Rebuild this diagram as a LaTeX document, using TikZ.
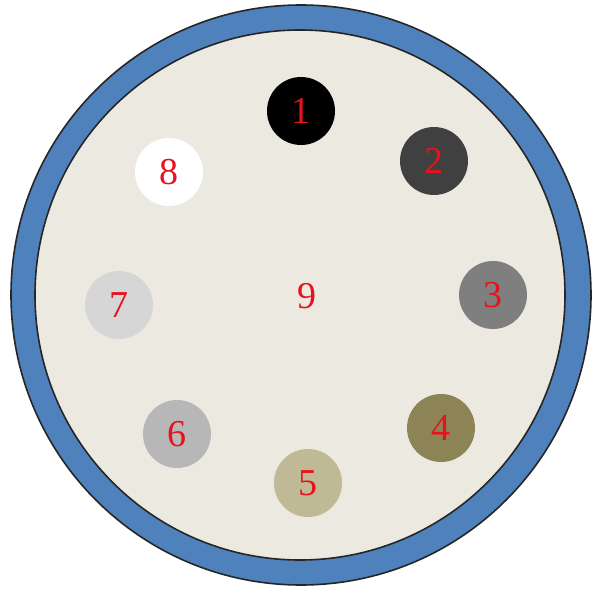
\documentclass[tikz,border=0pt]{standalone}
\usepackage{fontspec}
\setmainfont{Liberation Serif}
\definecolor{ringblue}{HTML}{4F81BD}
\definecolor{bgfill}{HTML}{ECE9E0}
\definecolor{cTwo}{HTML}{404040}
\definecolor{cThree}{HTML}{7F7F7F}
\definecolor{cFour}{HTML}{8C8455}
\definecolor{cFive}{HTML}{C0B996}
\definecolor{cSix}{HTML}{B7B7B7}
\definecolor{cSeven}{HTML}{D6D6D6}
\definecolor{numred}{HTML}{E8121E}
\begin{document}
\begin{tikzpicture}[x=1pt,y=-1pt,
  dot/.style={circle,minimum size=68pt,inner sep=0pt,text=numred,font=\fontsize{38}{38}\selectfont}]
\useasboundingbox (0,0) rectangle (595,591);
\fill[white] (0,0) rectangle (595,591);
\filldraw[fill=ringblue,draw=black!85,line width=1.6pt] (301,295) circle (290);
\filldraw[fill=bgfill,draw=black!85,line width=1.6pt] (300,295) circle (265);
\node[dot,fill=black] (n1) at (301,111) {1};
\node[dot,fill=cTwo] (n2) at (434,161) {2};
\node[dot,fill=cThree] (n3) at (493,295) {3};
\node[dot,fill=cFour] (n4) at (441,428) {4};
\node[dot,fill=cFive] (n5) at (308,483) {5};
\node[dot,fill=cSix] (n6) at (177,434) {6};
\node[dot,fill=cSeven] (n7) at (119,305) {7};
\node[dot,fill=white] (n8) at (169,172) {8};
\node[dot] (n9) at (307,296) {9};
\end{tikzpicture}
\end{document}
